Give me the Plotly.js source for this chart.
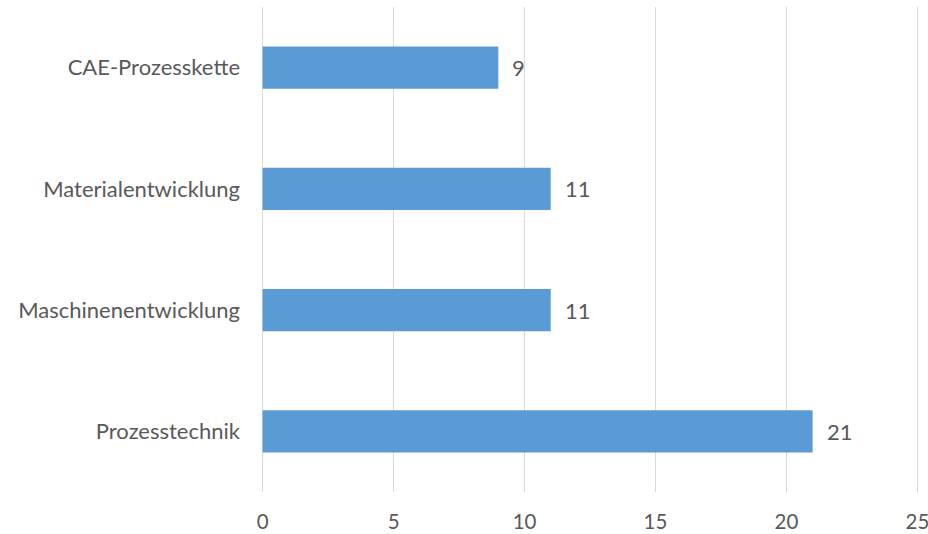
<!DOCTYPE html>
<html>
<head>
<meta charset="utf-8">
<script src="https://cdn.plot.ly/plotly-3.0.1.min.js"></script>
<style>html,body{margin:0;padding:0;background:#fff;}#chart{width:928px;height:534px;}</style>
</head>
<body>
<div id="chart"></div>
<script>
var categories = ["Prozesstechnik", "Maschinenentwicklung", "Materialentwicklung", "CAE-Prozesskette"];
var values = [21, 11, 11, 9];
var xTicks = [0, 5, 10, 15, 20, 25];

var font = {family: "Lato, 'Open Sans', sans-serif", size: 22, color: "#595959"};

var trace = {
  type: "bar",
  orientation: "h",
  y: categories,
  x: values,
  width: 0.35,
  marker: {color: "#5B9BD5"},
  hoverinfo: "none"
};

var annotations = values.map(function (v, i) {
  return {x: v, y: categories[i], xref: "x", yref: "y", text: String(v),
    showarrow: false, xanchor: "left", xshift: 12, font: font};
});

var layout = {
  width: 928, height: 534,
  margin: {l: 260.4, r: 8.4, t: 7, b: 42},
  paper_bgcolor: "#fff", plot_bgcolor: "#fff",
  font: font,
  showlegend: false,
  xaxis: {range: [-0.1, 25.1], tickvals: xTicks, ticktext: xTicks.map(String),
    tickfont: {family: font.family, size: 20.5, color: "#595959"},
    showgrid: true, gridcolor: "#D9D9D9", gridwidth: 1.3, zeroline: false,
    showline: false, ticks: "", ticklabelstandoff: 15, ticklabeloverflow: "allow",
    fixedrange: true},
  yaxis: {type: "category", categoryorder: "array", categoryarray: categories,
    range: [-0.5, 3.5], showgrid: false, zeroline: false, showline: false,
    ticks: "", ticklabelstandoff: 19, fixedrange: true},
  annotations: annotations
};

Plotly.newPlot("chart", [trace], layout, {displayModeBar: false, staticPlot: true});
</script>
</body>
</html>
